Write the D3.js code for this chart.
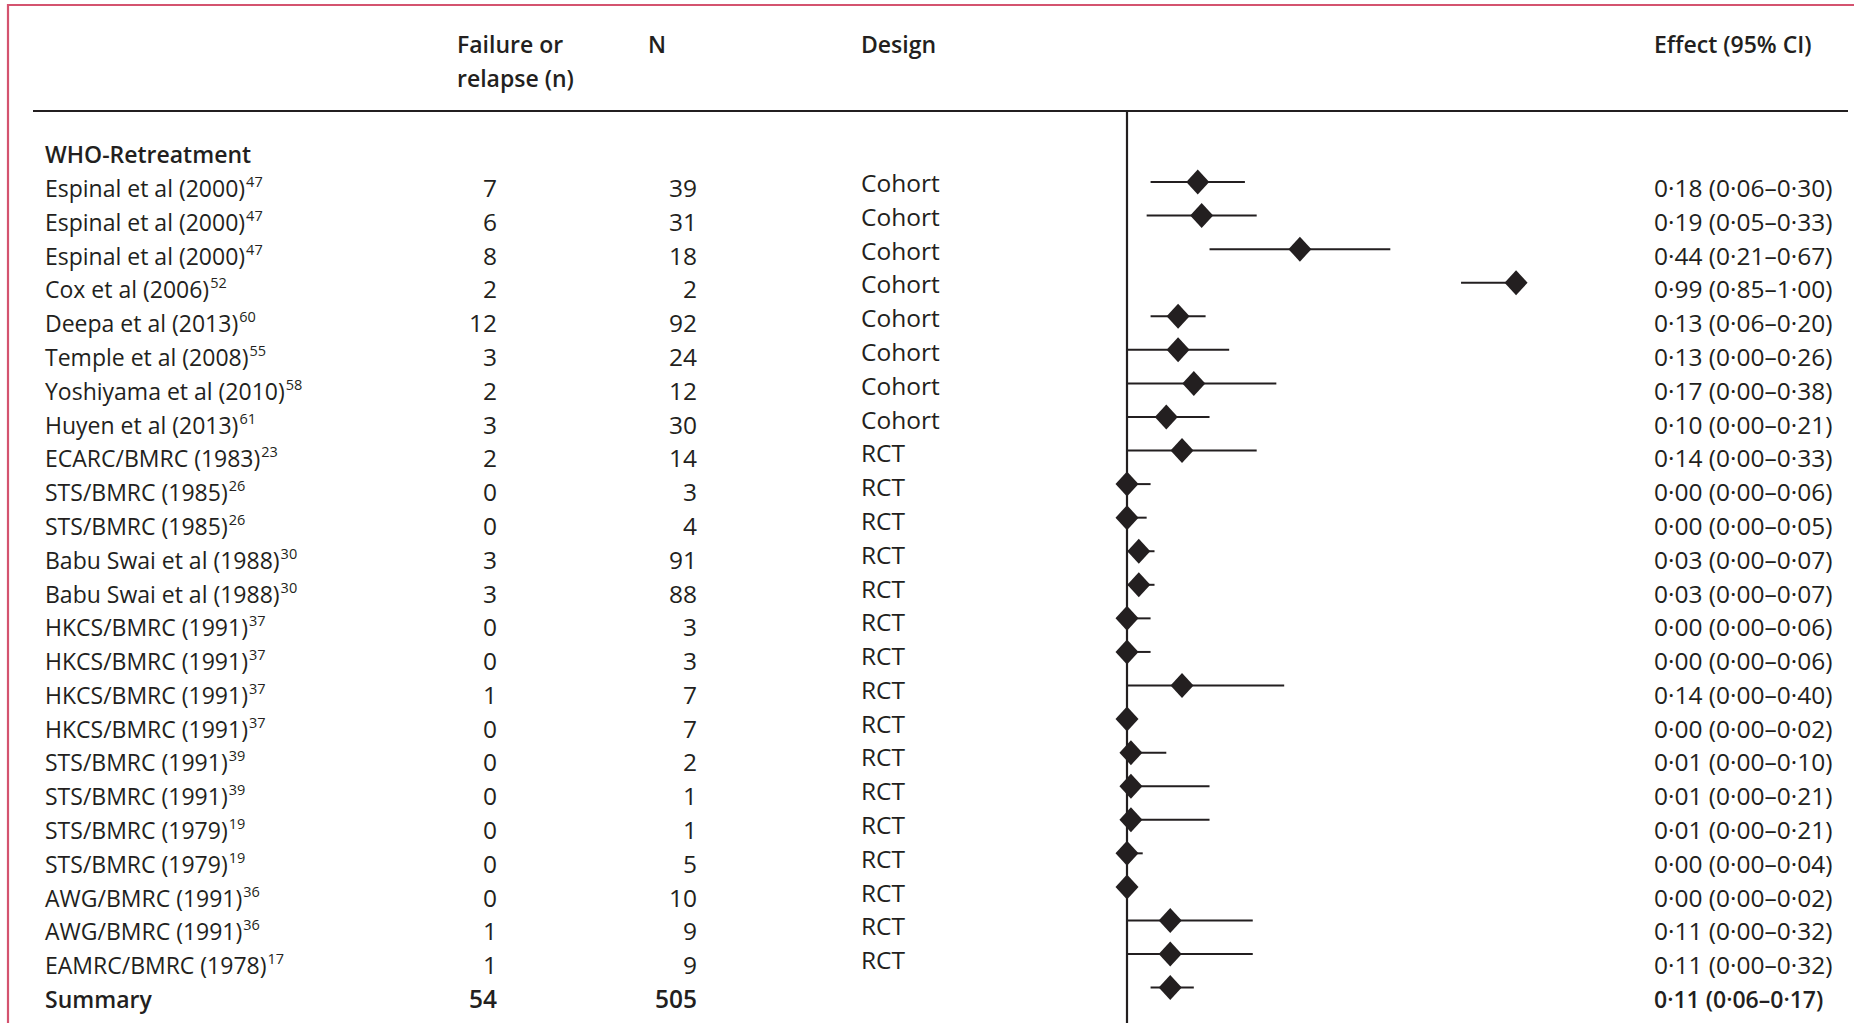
<!DOCTYPE html>
<html>
<head>
<meta charset="utf-8">
<script src="https://cdn.jsdelivr.net/npm/d3@7"></script>
<style>
  html, body { margin: 0; padding: 0; background: #fff; }
  svg { display: block; }
</style>
</head>
<body>
<div id="chart"></div>
<script>
// 数据
const studies = [
  "Espinal et al (2000)", "Espinal et al (2000)", "Espinal et al (2000)", "Cox et al (2006)",
  "Deepa et al (2013)", "Temple et al (2008)", "Yoshiyama et al (2010)", "Huyen et al (2013)",
  "ECARC/BMRC (1983)", "STS/BMRC (1985)", "STS/BMRC (1985)", "Babu Swai et al (1988)",
  "Babu Swai et al (1988)", "HKCS/BMRC (1991)", "HKCS/BMRC (1991)", "HKCS/BMRC (1991)",
  "HKCS/BMRC (1991)", "STS/BMRC (1991)", "STS/BMRC (1991)", "STS/BMRC (1979)",
  "STS/BMRC (1979)", "AWG/BMRC (1991)", "AWG/BMRC (1991)", "EAMRC/BMRC (1978)"
];
const refs = ["47", "47", "47", "52", "60", "55", "58", "61", "23", "26", "26", "30",
  "30", "37", "37", "37", "37", "39", "39", "19", "19", "36", "36", "17"];
const failures = [7, 6, 8, 2, 12, 3, 2, 3, 2, 0, 0, 3, 3, 0, 0, 1, 0, 0, 0, 0, 0, 0, 1, 1];
const totals = [39, 31, 18, 2, 92, 24, 12, 30, 14, 3, 4, 91, 88, 3, 3, 7, 7, 2, 1, 1, 5, 10, 9, 9];
const designs = ["Cohort", "Cohort", "Cohort", "Cohort", "Cohort", "Cohort", "Cohort", "Cohort",
  "RCT", "RCT", "RCT", "RCT", "RCT", "RCT", "RCT", "RCT", "RCT", "RCT", "RCT", "RCT",
  "RCT", "RCT", "RCT", "RCT"];
const effects = [0.18, 0.19, 0.44, 0.99, 0.13, 0.13, 0.17, 0.10, 0.14, 0.00, 0.00, 0.03,
  0.03, 0.00, 0.00, 0.14, 0.00, 0.01, 0.01, 0.01, 0.00, 0.00, 0.11, 0.11];
const lower = [0.06, 0.05, 0.21, 0.85, 0.06, 0.00, 0.00, 0.00, 0.00, 0.00, 0.00, 0.00,
  0.00, 0.00, 0.00, 0.00, 0.00, 0.00, 0.00, 0.00, 0.00, 0.00, 0.00, 0.00];
const upper = [0.30, 0.33, 0.67, 1.00, 0.20, 0.26, 0.38, 0.21, 0.33, 0.06, 0.05, 0.07,
  0.07, 0.06, 0.06, 0.40, 0.02, 0.10, 0.21, 0.21, 0.04, 0.02, 0.32, 0.32];
const groupLabel = "WHO-Retreatment";
const summary = { name: "Summary", n: 54, N: 505, effect: 0.11, lower: 0.06, upper: 0.17 };
const headers = [
  { lines: ["Failure or", "relapse (n)"], col: "nHead" },
  { lines: ["N"], col: "NHead" },
  { lines: ["Design"], col: "design" },
  { lines: ["Effect (95% CI)"], col: "effect" }
];

const width = 1854, height = 1023;
const font = "'Open Sans', 'Noto Sans', sans-serif";
const fontSize = 24.5;
const nameSize = 23;
const headSize = 23;
const ink = "#231f20";
const frameColor = "#d4536f";
// 列位置
const col = { name: 45, n: 497, nHead: 457, N: 697, NHead: 648, design: 861, effect: 1654 };

const rows = studies.map((s, i) => ({
  name: s, ref: refs[i], n: failures[i], N: totals[i], design: designs[i],
  effect: effects[i], lower: lower[i], upper: upper[i], bold: false
}));
rows.push({ ...summary, ref: null, design: "", bold: true });

const x = d3.scaleLinear([0, 1], [1127, 1520]);
// 菱形行位置 / 文字基线
const y = d3.scaleLinear([0, rows.length - 1], [182, 987.6]);
const yText = d3.scaleLinear([0, rows.length - 1], [197, 1008]);
const fmt = (v) => d3.format(".2f")(v).replace(".", "\u00b7");

const svg = d3.select("#chart").append("svg")
  .attr("width", width)
  .attr("height", height)
  .attr("font-family", font)
  .attr("fill", ink);

// 外框
svg.append("path")
  .attr("d", `M8,${height + 5} L8,5 L${width + 5},5`)
  .attr("fill", "none")
  .attr("stroke", frameColor)
  .attr("stroke-width", 2.2);

// 表头
const headG = svg.append("g").attr("class", "headG").attr("font-weight", 600).attr("font-size", headSize);
headers.forEach((h) => {
  h.lines.forEach((t, j) => {
    headG.append("text").attr("x", col[h.col]).attr("y", 53 + j * 34).text(t);
  });
});
svg.append("line")
  .attr("x1", 33).attr("x2", 1848)
  .attr("y1", 111).attr("y2", 111)
  .attr("stroke", ink).attr("stroke-width", 2);

// 分组名
svg.append("text")
  .attr("x", col.name)
  .attr("y", yText(-1))
  .attr("font-size", headSize)
  .attr("font-weight", 600)
  .text(groupLabel);

// 各行文字
const rowG = svg.append("g").attr("class", "rowG").attr("font-size", fontSize);
rowG.selectAll("g")
  .data(rows)
  .join("g")
  .attr("transform", (d, i) => `translate(0, ${yText(i)})`)
  .attr("font-weight", (d) => (d.bold ? 600 : 400))
  .call((g) => {
    g.append("text")
      .attr("x", col.name)
      .attr("font-size", nameSize)
      .call((t) => {
        t.append("tspan").text((d) => d.name);
        t.filter((d) => d.ref)
          .append("tspan")
          .attr("dy", -10)
          .attr("dx", 1)
          .attr("font-size", 14.5)
          .text((d) => d.ref);
      });
    g.append("text")
      .attr("x", col.n)
      .attr("text-anchor", "end")
      .text((d) => d.n);
    g.append("text")
      .attr("x", col.N)
      .attr("text-anchor", "end")
      .text((d) => d.N);
    g.append("text")
      .attr("x", col.design)
      .attr("y", -5)
      .text((d) => d.design);
    g.append("text")
      .attr("x", col.effect)
      .attr("font-size", (d) => (d.bold ? headSize : fontSize))
      .text((d) => `${fmt(d.effect)} (${fmt(d.lower)}\u2013${fmt(d.upper)})`);
  });

// 零线
svg.append("line")
  .attr("x1", x(0)).attr("x2", x(0))
  .attr("y1", 112).attr("y2", height)
  .attr("stroke", ink).attr("stroke-width", 2.2);

// 置信区间和菱形
const plotG = svg.append("g").attr("class", "plotG");
plotG.selectAll("g")
  .data(rows)
  .join("g")
  .attr("transform", (d, i) => `translate(0, ${y(i)})`)
  .call((g) => {
    g.append("line")
      .attr("x1", (d) => x(d.lower))
      .attr("x2", (d) => x(d.upper))
      .attr("stroke", ink)
      .attr("stroke-width", 2);
    g.append("path")
      .attr("d", (d) => {
        const cx = x(d.effect);
        return `M${cx - 11.5},0 L${cx},-12.5 L${cx + 11.5},0 L${cx},12.5 Z`;
      })
      .attr("fill", ink);
  });
</script>
</body>
</html>
